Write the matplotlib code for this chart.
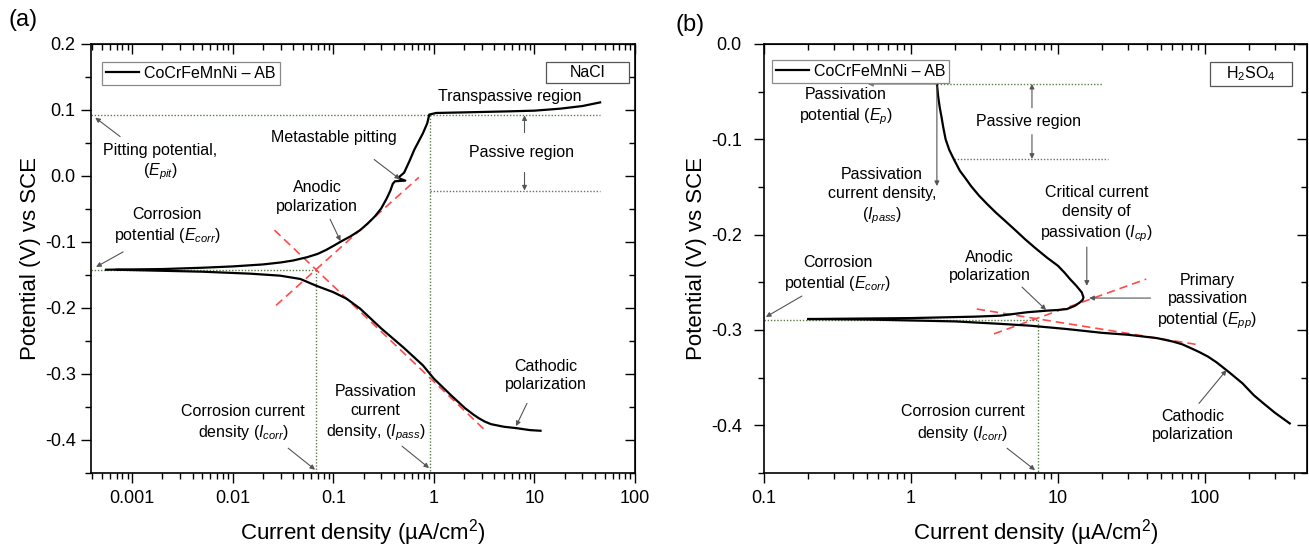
import matplotlib
matplotlib.use("Agg")
import matplotlib.pyplot as plt
from matplotlib.ticker import FuncFormatter, LogLocator, MultipleLocator, NullFormatter, FormatStrFormatter
from matplotlib.patches import Rectangle
from matplotlib.lines import Line2D

plt.rcParams.update({
    "font.family": ["Liberation Sans", "DejaVu Sans"],
    "mathtext.fontset": "custom",
    "mathtext.rm": "Liberation Sans",
    "mathtext.it": "Liberation Sans:italic",
    "mathtext.bf": "Liberation Sans:bold",
    "axes.unicode_minus": False,
})

# ---------------- (a) CoCrFeMnNi in NaCl ----------------
nacl_anodic_i = [0.00055, 0.002, 0.005, 0.01, 0.02, 0.03, 0.04, 0.055, 0.07, 0.085, 0.1, 0.12,
                 0.15, 0.185, 0.22, 0.26, 0.3, 0.34, 0.37, 0.39, 0.41, 0.52, 0.44, 0.506,
                 0.57, 0.64, 0.71, 0.78, 0.86, 0.9,
                 1.05, 2.0, 5.4, 10, 18, 30, 45]
nacl_anodic_e = [-0.142, -0.141, -0.139, -0.137, -0.134, -0.131, -0.128, -0.123, -0.118, -0.112, -0.106, -0.099,
                 -0.091, -0.082, -0.072, -0.061, -0.049, -0.034, -0.022, -0.012, -0.008, -0.007, -0.003, 0.005,
                 0.022, 0.040, 0.053, 0.065, 0.080, 0.093,
                 0.0955, 0.0964, 0.0979, 0.099, 0.102, 0.106, 0.1115]
nacl_cathodic_i = [0.0007, 0.005, 0.015, 0.0296, 0.047, 0.067, 0.1, 0.136, 0.185, 0.3, 0.5, 0.78,
                   1.0, 1.5, 2.05, 2.5, 2.8, 3.2, 3.7, 4.3, 5.0, 6.6, 9.0, 11.5]
nacl_cathodic_e = [-0.142, -0.145, -0.148, -0.151, -0.156, -0.166, -0.176, -0.186, -0.201, -0.231, -0.260, -0.287,
                   -0.307, -0.333, -0.352, -0.362, -0.367, -0.372, -0.376, -0.378, -0.380, -0.382, -0.385, -0.386]
nacl_tafel_anodic_i = [0.027, 0.71]
nacl_tafel_anodic_e = [-0.196, -0.002]
nacl_tafel_cathodic_i = [0.026, 3.27]
nacl_tafel_cathodic_e = [-0.082, -0.386]
nacl_e_corr = -0.143
nacl_i_corr = 0.068
nacl_e_pit = 0.092
nacl_e_passive_low = -0.022
nacl_i_pass = 0.92
nacl_i_guide_end = 45

# ---------------- (b) CoCrFeMnNi in H2SO4 ----------------
h2so4_anodic_i = [0.2, 0.237, 1.0, 2.72, 4.03, 6.15, 8.4, 10.0, 11.5, 13.0, 14.1, 14.7, 14.9, 14.5, 13.3,
                  12.07, 11.1, 10.0, 8.4, 7.0, 5.97, 5.1, 4.4, 3.78, 3.3, 2.9, 2.56, 2.35, 2.15, 1.96,
                  1.82, 1.72, 1.66, 1.61, 1.57, 1.53, 1.5]
h2so4_anodic_e = [-0.2885, -0.2884, -0.2875, -0.286, -0.285, -0.2814, -0.2797, -0.279, -0.278, -0.2747,
                  -0.271, -0.2685, -0.2657, -0.2605, -0.2535,
                  -0.2466, -0.240, -0.2327, -0.224, -0.214, -0.2048, -0.195, -0.186, -0.1769, -0.168,
                  -0.159, -0.149, -0.141, -0.133, -0.1212,
                  -0.111, -0.100, -0.088, -0.076, -0.067, -0.055, -0.0418]
h2so4_cathodic_i = [0.2, 0.5, 1.0, 2.0, 4.0, 6.5, 11.5, 20, 30, 47, 60, 70, 80, 91, 105, 120, 145, 180,
                    215, 250, 300, 377]
h2so4_cathodic_e = [-0.2885, -0.289, -0.290, -0.291, -0.2935, -0.2955, -0.299, -0.303, -0.305, -0.3085,
                    -0.312, -0.315, -0.319, -0.323, -0.328, -0.334, -0.344, -0.356,
                    -0.3685, -0.377, -0.387, -0.398]
h2so4_tafel_anodic_i = [3.67, 39.8]
h2so4_tafel_anodic_e = [-0.304, -0.2466]
h2so4_tafel_cathodic_i = [2.8, 91]
h2so4_tafel_cathodic_e = [-0.278, -0.3156]
h2so4_e_corr = -0.289
h2so4_i_corr = 7.3
h2so4_e_p = -0.0418
h2so4_e_passive_low = -0.1205
h2so4_i_pass = 1.5

legend_label = "CoCrFeMnNi \u2013 AB"
x_label = "Current density (\u00b5A/cm$^\\mathrm{2}$)"
y_label = "Potential (V) vs SCE"

W, H = 1309, 547
fig = plt.figure(figsize=(W / 100, H / 100), dpi=100)

DOT = dict(color="#5b7d4c", lw=1.0, linestyle=(0, (1, 1.3)), zorder=2)
RED = dict(color="#ff4a4a", lw=1.2, linestyle=(0, (5, 3)), zorder=3)
CURVE = dict(color="black", lw=1.6, zorder=4, solid_joinstyle="round")
ARROW = dict(arrowstyle="-|>", color="#555555", lw=0.8, mutation_scale=7, shrinkA=0, shrinkB=0)
TXT = dict(ha="center", va="center", fontsize=11.5, linespacing=1.3, zorder=6)


def px_axes(x0, x1, y0, y1):
    return fig.add_axes([x0 / W, 1 - y1 / H, (x1 - x0) / W, (y1 - y0) / H])


def style_axes(ax, ylim, ypad):
    ax.set_xscale("log")
    ax.set_ylim(*ylim)
    ax.xaxis.set_major_locator(LogLocator(base=10, numticks=20))
    ax.xaxis.set_minor_locator(LogLocator(base=10, subs=range(2, 10), numticks=20))
    ax.xaxis.set_major_formatter(FuncFormatter(lambda v, _: f"{v:g}"))
    ax.xaxis.set_minor_formatter(NullFormatter())
    ax.yaxis.set_major_locator(MultipleLocator(0.1))
    ax.yaxis.set_minor_locator(MultipleLocator(0.05))
    ax.yaxis.set_major_formatter(FormatStrFormatter("%.1f"))
    ax.tick_params(which="both", direction="out", top=False, right=False, labelsize=13, width=1.0)
    ax.tick_params(which="major", length=7)
    ax.tick_params(which="minor", length=4)
    ax.tick_params(axis="x", pad=5.5)
    ax.tick_params(axis="y", pad=ypad)
    for s in ax.spines.values():
        s.set_linewidth(1.2)
    top = ax.secondary_xaxis("top")
    top.xaxis.set_major_locator(LogLocator(base=10, numticks=20))
    top.xaxis.set_minor_locator(LogLocator(base=10, subs=range(2, 10), numticks=20))
    top.tick_params(which="both", direction="in", labeltop=False, width=1.0)
    top.tick_params(which="major", length=7)
    top.tick_params(which="minor", length=4)
    right = ax.secondary_yaxis("right")
    right.yaxis.set_major_locator(MultipleLocator(0.1))
    right.yaxis.set_minor_locator(MultipleLocator(0.05))
    right.tick_params(which="both", direction="in", labelright=False, width=1.0)
    right.tick_params(which="major", length=7)
    right.tick_params(which="minor", length=4)
    ax.set_xlabel(x_label, fontsize=16, va="center")
    ax.set_ylabel(y_label, fontsize=16, va="center")


def arrow(ax, start, end):
    ax.annotate("", xy=end, xytext=start, arrowprops=ARROW, zorder=5)


def legend(ax, anchor):
    h = [Line2D([], [], color="black", lw=1.6)]
    lg = ax.legend(h, [legend_label], loc="upper left", bbox_to_anchor=anchor, borderaxespad=0,
                   fontsize=11.5, handlelength=2.1, handletextpad=0.3, borderpad=0.25,
                   fancybox=False, framealpha=1, edgecolor="#8a8a8a")
    lg.get_frame().set_linewidth(0.9)


def label_box(ax, x0, y0, x1, y1, text):
    ax.add_patch(Rectangle((x0, y0), x1 - x0, y1 - y0, transform=ax.transAxes, fill=False,
                           edgecolor="#555555", lw=0.9, zorder=6))
    ax.text((x0 + x1) / 2, (y0 + y1) / 2, text, transform=ax.transAxes, ha="center", va="center",
            fontsize=11.5, zorder=6)


# ================= panel (a) =================
ax = px_axes(91, 635, 44, 473)
ax.set_xlim(0.00039, 100)
style_axes(ax, (-0.45, 0.2), 4)
ax.xaxis.set_label_coords(0.5, -0.138)
ax.yaxis.set_label_coords(-0.112, 0.5)

xmin = ax.get_xlim()[0]
ax.plot([xmin, nacl_i_guide_end], [nacl_e_pit, nacl_e_pit], **DOT)
ax.plot([nacl_i_pass, nacl_i_guide_end], [nacl_e_passive_low, nacl_e_passive_low], **DOT)
ax.plot([xmin, nacl_i_corr], [nacl_e_corr, nacl_e_corr], **DOT)
ax.plot([nacl_i_corr, nacl_i_corr], [nacl_e_corr, -0.45], **DOT)
ax.plot([nacl_i_pass, nacl_i_pass], [nacl_e_pit, -0.45], **DOT)

ax.plot(nacl_tafel_anodic_i, nacl_tafel_anodic_e, **RED)
ax.plot(nacl_tafel_cathodic_i, nacl_tafel_cathodic_e, **RED)
ax.plot(nacl_anodic_i, nacl_anodic_e, **CURVE)
ax.plot(nacl_cathodic_i, nacl_cathodic_e, **CURVE)

legend(ax, (0.020, 0.958))
label_box(ax, 0.836, 0.909, 0.989, 0.958, "NaCl")

ax.text(5.7, 0.120, "Transpassive region", **TXT)
ax.text(7.36, 0.0356, "Passive region", **TXT)
arrow(ax, (7.97, 0.0658), (7.97, nacl_e_pit))
arrow(ax, (7.97, 0.0054), (7.97, nacl_e_passive_low))
ax.text(0.102, 0.058, "Metastable pitting", **TXT)
arrow(ax, (0.255, 0.025), (0.461, -0.005))
ax.text(0.069, -0.032, "Anodic\npolarization", **TXT)
arrow(ax, (0.093, -0.0655), (0.118, -0.0986))
ax.text(0.0019, 0.0205, "Pitting potential,\n($E_{pit}$)", **TXT)
arrow(ax, (0.00076, 0.0597), (0.00043, 0.0884))
ax.text(0.00223, -0.0753, "Corrosion\npotential ($E_{corr}$)", **TXT)
arrow(ax, (0.000814, -0.115), (0.000438, -0.1378))
ax.text(0.0127, -0.3747, "Corrosion current\ndensity ($I_{corr}$)", **TXT)
arrow(ax, (0.0356, -0.4124), (0.0659, -0.445))
ax.text(0.264, -0.3596, "Passivation\ncurrent\ndensity, ($I_{pass}$)", **TXT)
arrow(ax, (0.483, -0.4094), (0.896, -0.4425))
ax.text(13.0, -0.302, "Cathodic\npolarization", **TXT)
arrow(ax, (8.43, -0.3445), (6.56, -0.379))

fig.text(23 / W, 1 - 20 / H, "(a)", fontsize=17, ha="center", va="center")

# ================= panel (b) =================
bx = px_axes(764, 1307, 44, 473)
bx.set_xlim(0.1, 494)
style_axes(bx, (-0.45, 0.0), 9)
bx.xaxis.set_label_coords(0.5, -0.138)
bx.yaxis.set_label_coords(-0.125, 0.5)

bxmin = bx.get_xlim()[0]
bx.plot([bxmin, h2so4_i_corr], [h2so4_e_corr, h2so4_e_corr], **DOT)
bx.plot([h2so4_i_corr, h2so4_i_corr], [h2so4_e_corr, -0.45], **DOT)
bx.plot([h2so4_i_pass, 20], [h2so4_e_p, h2so4_e_p], **DOT)
bx.plot([1.96, 22], [h2so4_e_passive_low, h2so4_e_passive_low], **DOT)

bx.plot(h2so4_tafel_anodic_i, h2so4_tafel_anodic_e, **RED)
bx.plot(h2so4_tafel_cathodic_i, h2so4_tafel_cathodic_e, **RED)
bx.plot(h2so4_anodic_i, h2so4_anodic_e, **CURVE)
bx.plot(h2so4_cathodic_i, h2so4_cathodic_e, **CURVE)

legend(bx, (0.014, 0.963))
label_box(bx, 0.821, 0.902, 0.972, 0.958, "H$_\\mathrm{2}$SO$_\\mathrm{4}$")

bx.annotate("", xy=(0.506, h2so4_e_p), xytext=(h2so4_i_pass, h2so4_e_p),
            arrowprops=dict(ARROW, color="#777777", lw=1.1), zorder=5)
bx.text(0.361, -0.0664, "Passivation\npotential ($E_p$)", **TXT)
arrow(bx, (h2so4_i_pass, -0.044), (h2so4_i_pass, -0.149))
bx.text(0.635, -0.160, "Passivation\ncurrent density,\n($I_{pass}$)", **TXT)
bx.text(6.25, -0.0815, "Passive region", **TXT)
arrow(bx, (6.65, -0.0669), (6.65, h2so4_e_p))
arrow(bx, (6.65, -0.095), (6.65, h2so4_e_passive_low))
bx.text(18.3, -0.1787, "Critical current\ndensity of\npassivation ($I_{cp}$)", **TXT)
arrow(bx, (15.7, -0.213), (15.7, -0.2536))
bx.text(104, -0.2706, "Primary\npassivation\npotential ($E_{pp}$)", **TXT)
arrow(bx, (42.6, -0.2665), (16.3, -0.2665))
bx.text(3.44, -0.2335, "Anodic\npolarization", **TXT)
arrow(bx, (5.69, -0.255), (8.3, -0.279))
bx.text(0.318, -0.2414, "Corrosion\npotential ($E_{corr}$)", **TXT)
arrow(bx, (0.181, -0.2644), (0.103, -0.2863))
bx.text(2.24, -0.398, "Corrosion current\ndensity ($I_{corr}$)", **TXT)
arrow(bx, (4.5, -0.424), (6.98, -0.447))
bx.text(82.8, -0.400, "Cathodic\npolarization", **TXT)
arrow(bx, (91, -0.377), (140, -0.342))

fig.text(690 / W, 1 - 25 / H, "(b)", fontsize=17, ha="center", va="center")

fig.savefig("out.png", dpi=100)
